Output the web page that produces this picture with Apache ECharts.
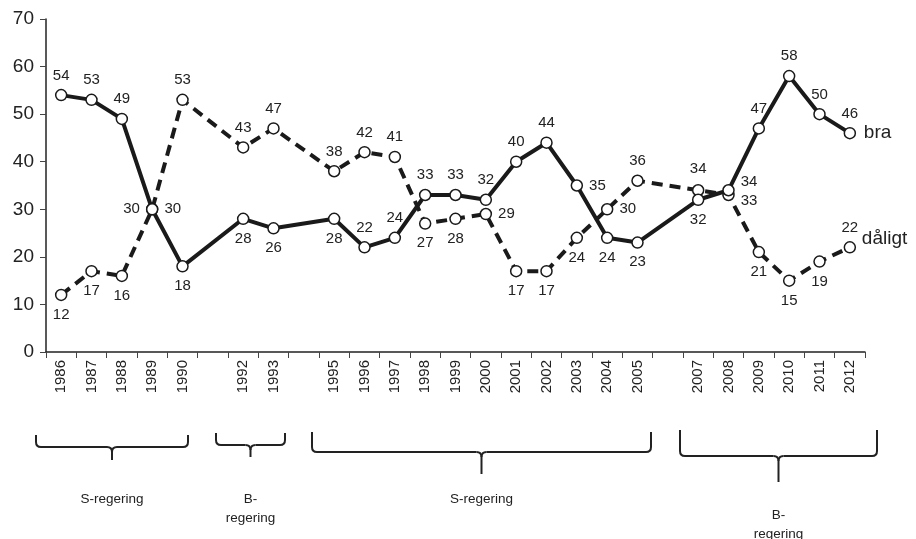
<!DOCTYPE html>
<html><head><meta charset="utf-8">
<script src="https://cdn.jsdelivr.net/npm/echarts@6/dist/echarts.min.js"></script>
<style>html,body{margin:0;padding:0;background:#fff}#c{width:916px;height:539px}</style>
</head><body><div id="c"></div>
<script>
const years = ['1986','1987','1988','1989','1990','1991','1992','1993','1994','1995','1996','1997','1998','1999','2000','2001','2002','2003','2004','2005','2006','2007','2008','2009','2010','2011','2012'];
const hiddenYears = ['1991','1994','2006'];
const bra =    [54,53,49,30,18,null,28,26,null,28,22,24,33,33,32,40,44,35,24,23,null,32,34,47,58,50,46];
const daligt = [12,17,16,30,53,null,43,47,null,38,42,41,27,28,29,17,17,24,30,36,null,34,33,21,15,19,22];
const braLabelPos =    ['top','top','top','left','bottom',null,'bottom','bottom',null,'bottom','top','top','top','top','top','top','top','right','bottom','bottom',null,'bottom','right','top','top','top','top'];
const daligtLabelPos = ['bottom','bottom','bottom','right','top',null,'top','top',null,'top','top','top','bottom','bottom','right','bottom','bottom','bottom','right','top',null,'top','right','bottom','bottom','bottom','top'];
const periodTexts = ['S-regering','B-\nregering','S-regering','B-\nregering'];

const ff = '"Liberation Sans", Arial, sans-serif';
function mk(vals, pos, nudge){
  return vals.map((v,i)=> {
    if (v===null) return null;
    const lab = {position:pos[i]};
    if (nudge && nudge[years[i]]) lab.offset = nudge[years[i]];
    return {value:v, label:lab};
  });
}
const chart = echarts.init(document.getElementById('c'));
const lbl = {show:true, fontSize:15, color:'#222', fontFamily:ff, distance:6};

// Brace annotations under the axis (layout only): [left, right, top, line, nub]
const braces = [[36,188,435,447,460],[216,285,433,445,457],[312,651,432,452,474],[680,877,430,456,482]];
const textY = [490,490,490,506];
const graphics = [];
const st = {stroke:'#222', lineWidth:2, fill:null};
function seg(a,b,c,d){ graphics.push({type:'line', shape:{x1:a,y1:b,x2:c,y2:d}, style:st}); }
function crv(a,b,cx,cy,c,d){ graphics.push({type:'bezierCurve', shape:{x1:a,y1:b,x2:c,y2:d,cpx1:cx,cpy1:cy}, style:st}); }
braces.forEach((bz,i)=>{
  const [x1,x2,t,l,n] = bz;
  const xm = (x1+x2)/2;
  const r = 5;
  seg(x1,t,x1,l-r); crv(x1,l-r,x1,l,x1+r,l); seg(x1+r,l,xm-r,l);
  crv(xm-r,l,xm,l,xm,l+r); seg(xm,l+r,xm,n); crv(xm,l+r,xm,l,xm+r,l);
  seg(xm+r,l,x2-r,l); crv(x2-r,l,x2,l,x2,l-r); seg(x2,l-r,x2,t);
  graphics.push({type:'text', x:xm, y:textY[i], style:{text:periodTexts[i], fill:'#222', font:'13.5px '+ff, textAlign:'center', textVerticalAlign:'top', lineHeight:19}});
});

chart.setOption({
  animation:false,
  grid:{left:46,right:51,top:19,bottom:187},
  xAxis:{type:'category', data:years, boundaryGap:true,
    axisLine:{lineStyle:{color:'#222',width:1.5}},
    axisTick:{show:true, length:6, lineStyle:{color:'#444'}},
    axisLabel:{rotate:90, fontSize:15, color:'#222', fontFamily:ff, margin:8, interval:0,
      formatter: v => hiddenYears.includes(v) ? '' : v}},
  yAxis:{type:'value', min:0, max:70, interval:10,
    axisLine:{show:true, lineStyle:{color:'#222',width:1.5}},
    axisTick:{show:true, length:6, lineStyle:{color:'#444'}},
    splitLine:{show:false},
    axisLabel:{fontSize:19, color:'#222', fontFamily:ff, margin:12}},
  graphic:graphics,
  series:[
    {name:'bra', type:'line', data:mk(bra,braLabelPos,{'2008':[0,-8]}), connectNulls:true,
     symbol:'circle', symbolSize:11, z:3,
     itemStyle:{color:'#fff', borderColor:'#1a1a1a', borderWidth:1.5},
     lineStyle:{color:'#1a1a1a', width:4},
     label:lbl,
     endLabel:{show:true, formatter:'{a}', fontSize:19, color:'#222', fontFamily:ff, distance:14}},
    {name:'dåligt', type:'line', data:mk(daligt,daligtLabelPos,{'2008':[0,6],'2007':[0,-2]}), connectNulls:true,
     symbol:'circle', symbolSize:11, z:2,
     itemStyle:{color:'#fff', borderColor:'#1a1a1a', borderWidth:1.5},
     lineStyle:{color:'#1a1a1a', width:4, type:[11,7]},
     label:lbl,
     endLabel:{show:true, formatter:'{a}', fontSize:19, color:'#222', fontFamily:ff, distance:12, offset:[0,-9]}}
  ]
});
</script>
</body></html>
